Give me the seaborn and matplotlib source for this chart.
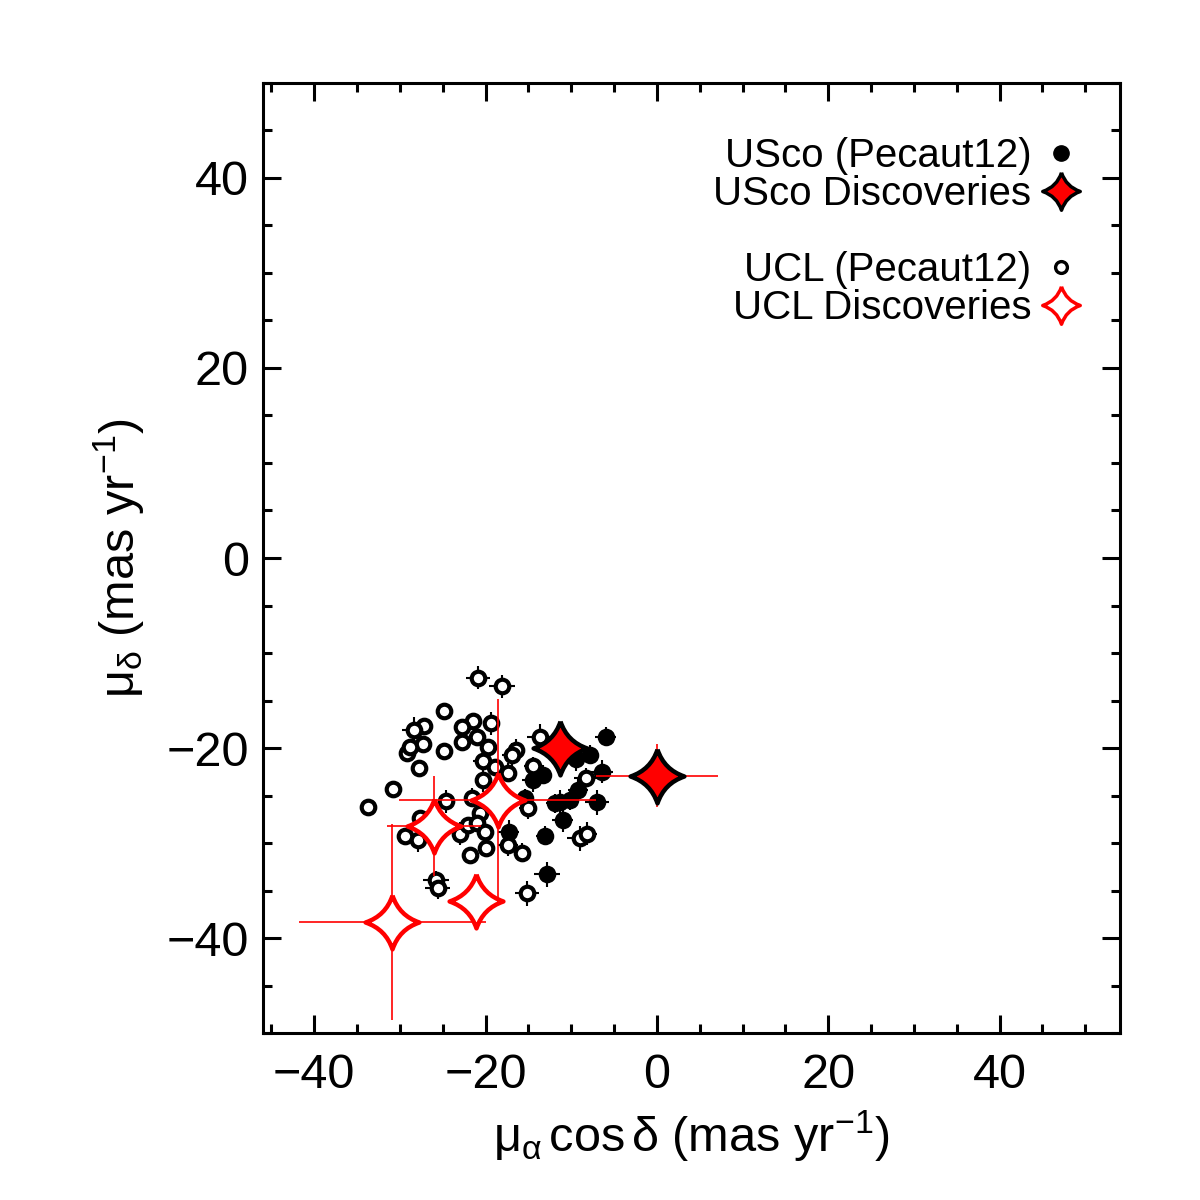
import numpy as np
import matplotlib
matplotlib.use('Agg')
import matplotlib.pyplot as plt
from matplotlib.path import Path
from matplotlib.lines import Line2D
from matplotlib.ticker import MultipleLocator
import seaborn as sns

# USco members (Pecaut12), filled black
usco_x = [-6.0, -7.8, -9.5, -6.4, -13.3, -14.5, -9.2, -11.3, -10.2, -11.9, -11.0, -7.0, -15.4, -17.3, -13.1, -12.8]
usco_y = [-18.8, -20.7, -21.1, -22.5, -22.8, -23.4, -24.4, -25.7, -25.5, -25.8, -27.6, -25.7, -25.3, -28.8, -29.2, -33.3]
usco_xerr = [1.2, 1.0, 1.3, 1.3, 1.0, 1.2, 1.2, 1.3, 1.0, 1.0, 1.2, 1.4, 1.0, 1.2, 1.0, 1.5]
usco_yerr = [1.0, 1.0, 1.3, 1.2, 1.0, 1.2, 1.2, 1.3, 1.0, 1.0, 1.2, 1.3, 1.0, 1.2, 1.0, 1.3]

# UCL members (Pecaut12), open circles
ucl_x = [-20.9, -18.1, -24.8, -27.2, -28.3, -21.5, -22.7, -19.4, -22.8, -21.0, -19.7, -27.3,
         -29.2, -28.8, -24.8, -16.4, -16.9, -20.3, -18.9, -17.4, -14.5, -13.7, -20.3, -27.8,
         -30.8, -33.7, -24.6, -21.6, -27.6, -29.4, -27.9, -23.0, -22.1, -20.7, -21.0, -20.1,
         -19.9, -21.8, -17.4, -15.7, -15.1, -25.8, -25.6, -15.2, -8.3, -9.0, -8.2]
ucl_y = [-12.6, -13.5, -16.1, -17.7, -18.1, -17.1, -17.8, -17.4, -19.4, -18.8, -19.9, -19.6,
         -20.5, -19.9, -20.3, -20.2, -20.7, -21.4, -22.0, -22.6, -21.9, -18.8, -23.4, -22.1,
         -24.3, -26.2, -25.6, -25.2, -27.4, -29.2, -29.7, -29.0, -28.1, -26.8, -27.9, -28.8,
         -30.5, -31.3, -30.2, -31.0, -26.3, -33.9, -34.7, -35.3, -23.1, -29.5, -29.0]
ucl_xerr = [1.4, 1.5, 0.5, 0.6, 1.5, 0.5, 0.5, 0.6, 0.5, 0.5, 0.5, 0.5,
            0.6, 0.6, 0.5, 1.0, 1.2, 1.2, 0.6, 1.0, 1.0, 1.5, 0.8, 0.5,
            0.5, 0.5, 1.0, 0.8, 0.8, 0.5, 0.5, 0.6, 0.5, 0.5, 0.5, 0.5,
            0.5, 0.5, 1.2, 1.0, 1.0, 1.5, 1.5, 1.4, 1.4, 1.5, 1.2]
ucl_yerr = [1.2, 1.2, 0.5, 0.6, 1.4, 0.5, 0.5, 1.2, 0.5, 0.5, 0.8, 0.5,
            1.0, 0.6, 0.5, 1.2, 1.2, 1.0, 0.8, 1.0, 1.0, 1.3, 1.2, 0.5,
            0.5, 0.5, 1.2, 1.0, 0.8, 0.5, 1.2, 1.2, 0.5, 0.5, 0.5, 0.5,
            0.5, 0.5, 1.2, 1.0, 1.2, 1.0, 1.2, 1.3, 1.0, 1.3, 1.2]

# new discoveries
usco_new_x = [-11.3, 0.0]
usco_new_y = [-20.0, -22.9]
usco_new_xerr = [1.0, 7.1]
usco_new_yerr = [1.0, 3.3]

ucl_new_x = [-30.9, -21.1, -18.6, -26.0]
ucl_new_y = [-38.3, -36.1, -25.5, -28.2]
ucl_new_xerr = [10.9, 2.0, 11.5, 5.5]
ucl_new_yerr = [10.3, 2.0, 10.7, 5.3]

# 4 pointed star with concave sides
c = 0.25
star = Path([(0, 1), (c, c), (1, 0), (c, -c), (0, -1), (-c, -c), (-1, 0), (-c, c), (0, 1)],
            [Path.MOVETO, Path.CURVE3, Path.CURVE3, Path.CURVE3, Path.CURVE3,
             Path.CURVE3, Path.CURVE3, Path.CURVE3, Path.CURVE3])

sns.set_style('ticks')
plt.rcParams['font.family'] = ['Liberation Sans', 'DejaVu Sans']
plt.rcParams['mathtext.fontset'] = 'custom'
plt.rcParams['mathtext.rm'] = 'Liberation Sans'
plt.rcParams['mathtext.it'] = 'Liberation Sans'
plt.rcParams['mathtext.bf'] = 'Liberation Sans:bold'
for k in ['text.color', 'axes.labelcolor', 'xtick.color', 'ytick.color', 'axes.edgecolor']:
    plt.rcParams[k] = 'black'

fig = plt.figure(figsize=(12, 12), dpi=100)
ax = fig.add_axes([0.219, 0.139, 0.714, 0.792])

# error bars of the known members
ax.errorbar(usco_x, usco_y, xerr=usco_xerr, yerr=usco_yerr, fmt='none', ecolor='black', elinewidth=1.5, zorder=1)
ax.errorbar(ucl_x, ucl_y, xerr=ucl_xerr, yerr=ucl_yerr, fmt='none', ecolor='black', elinewidth=1.5, zorder=1)

sns.scatterplot(x=usco_x, y=usco_y, color='black', s=160, linewidth=0, ax=ax, zorder=2)
sns.scatterplot(x=ucl_x, y=ucl_y, facecolor='white', edgecolor='black', s=95, linewidth=3.0, ax=ax, zorder=3)

ax.errorbar(ucl_new_x, ucl_new_y, xerr=ucl_new_xerr, yerr=ucl_new_yerr, fmt='none', ecolor='red', elinewidth=1.2, zorder=4)
ax.errorbar(usco_new_x, usco_new_y, xerr=usco_new_xerr, yerr=usco_new_yerr, fmt='none', ecolor='red', elinewidth=1.2, zorder=4)

sns.scatterplot(x=ucl_new_x, y=ucl_new_y, marker=star, facecolor='white', edgecolor='red', s=1500, linewidth=3.2, ax=ax, zorder=5)
sns.scatterplot(x=usco_new_x, y=usco_new_y, marker=star, facecolor='red', edgecolor='black', s=1500, linewidth=3.2, ax=ax, zorder=6)

ax.set_xlim(-46, 54)
ax.set_ylim(-50, 50)
ax.xaxis.set_major_locator(MultipleLocator(20))
ax.xaxis.set_minor_locator(MultipleLocator(5))
ax.yaxis.set_major_locator(MultipleLocator(20))
ax.yaxis.set_minor_locator(MultipleLocator(5))
ax.tick_params(which='both', direction='in', top=True, right=True, width=2.2, labelsize=35, color='black')
ax.tick_params(which='major', length=13)
ax.tick_params(which='minor', length=6.5)
ax.tick_params(axis='x', pad=14)
ax.tick_params(axis='y', pad=10)
for sp in ax.spines.values():
    sp.set_linewidth(2.2)
    sp.set_color('black')

ax.set_xlabel(r'$\mu_\alpha\,$cos$\,\delta$ (mas yr$^{-1}$)', fontsize=35, labelpad=8)
ax.set_ylabel(r'$\mu_\delta$ (mas yr$^{-1}$)', fontsize=35, labelpad=14)

handles = [
    Line2D([], [], ls='none', marker='o', color='black', markersize=11),
    Line2D([], [], ls='none', marker=star, markerfacecolor='red', markeredgecolor='black', markeredgewidth=2.5, markersize=27),
    Line2D([], [], ls='none', marker=None),
    Line2D([], [], ls='none', marker='o', markerfacecolor='white', markeredgecolor='black', markeredgewidth=2.4, markersize=8.5),
    Line2D([], [], ls='none', marker=star, markerfacecolor='white', markeredgecolor='red', markeredgewidth=2.5, markersize=27),
]
labels = ['USco (Pecaut12)', 'USco Discoveries', ' ', 'UCL (Pecaut12)', 'UCL Discoveries']
ax.legend(handles, labels, loc='upper right', bbox_to_anchor=(0.972, 0.96), borderaxespad=0,
          frameon=False, markerfirst=False, fontsize=29, handlelength=0.9, handletextpad=0.3,
          labelspacing=0.0)

fig.savefig('out.png', dpi=100)
